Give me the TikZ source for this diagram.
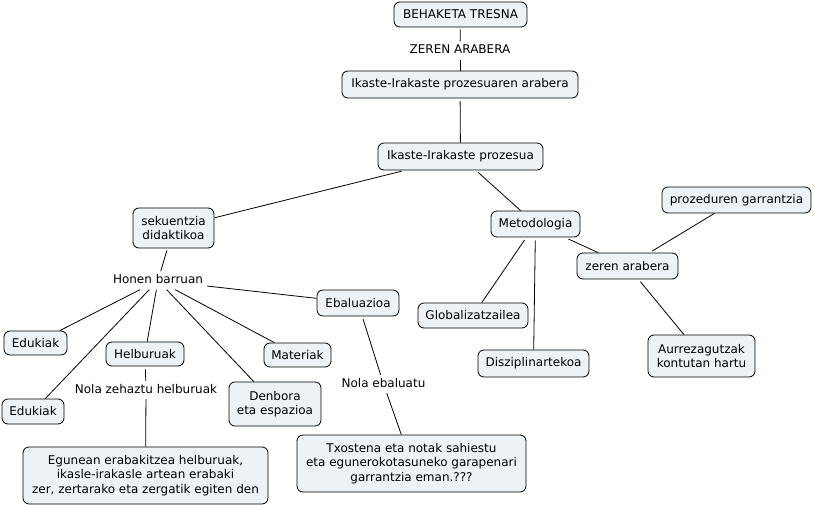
\documentclass[tikz,border=0pt]{standalone}
\usepackage{fontspec}
\setmainfont{DejaVu Sans}
\definecolor{cfill}{RGB}{237,242,246}
\tikzset{
  concept/.style={draw=black, fill=cfill, rounded corners=6pt, line width=0.8pt,
    inner sep=0pt, align=center, font=\fontsize{12}{14.2}\selectfont},
  linklabel/.style={fill=white, inner xsep=4pt, inner ysep=3pt, text height=9pt,
    text depth=3pt, font=\fontsize{12}{14.2}\selectfont},
  conn/.style={draw=black, line width=0.8pt},
}
\begin{document}
\begin{tikzpicture}[x=1pt, y=-1pt]
\useasboundingbox (0,0) rectangle (814,505);
% concepts
\node[concept, minimum width=133pt, minimum height=25pt] (beh) at (460.5,14.5) {BEHAKETA TRESNA};
\node[linklabel] (zA) at (460,50.5) {ZEREN ARABERA};
\node[concept, minimum width=236pt, minimum height=27pt] (arab) at (460,84.5) {Ikaste-Irakaste prozesuaren arabera};
\node[concept, minimum width=165pt, minimum height=27pt] (proz) at (460.5,156.5) {Ikaste-Irakaste prozesua};
\node[concept, minimum width=81pt, minimum height=40pt] (sek) at (173.5,228) {sekuentzia\\didaktikoa};
\node[concept, minimum width=89pt, minimum height=26pt] (meto) at (535.5,224) {Metodologia};
\node[concept, minimum width=149pt, minimum height=26pt] (proc) at (736.5,200) {prozeduren garrantzia};
\node[concept, minimum width=101pt, minimum height=26pt] (zar) at (627.5,266) {zeren arabera};
\node[concept, minimum width=110pt, minimum height=25pt] (glob) at (473,315.5) {Globalizatzailea};
\node[concept, minimum width=111pt, minimum height=27pt] (disz) at (533.5,363.5) {Disziplinartekoa};
\node[concept, minimum width=107pt, minimum height=42pt] (aurre) at (701.5,356) {Aurrezagutzak\\kontutan hartu};
\node[linklabel] (honen) at (158,280.5) {Honen barruan};
\node[concept, minimum width=82pt, minimum height=26pt] (ebal) at (358,303) {Ebaluazioa};
\node[concept, minimum width=63pt, minimum height=24pt] (eduk1) at (35.5,343) {Edukiak};
\node[concept, minimum width=78pt, minimum height=24pt] (helb) at (145,354) {Helburuak};
\node[concept, minimum width=67pt, minimum height=24pt] (mate) at (297.5,355) {Materiak};
\node[concept, minimum width=92pt, minimum height=44pt] (denb) at (275,404) {Denbora\\eta espazioa};
\node[concept, minimum width=62pt, minimum height=25pt] (eduk2) at (33,411.5) {Edukiak};
\node[linklabel] (nolaz) at (146,390) {Nola zehaztu helburuak};
\node[concept, minimum width=245pt, minimum height=57pt] (egun) at (145.5,475.5) {Egunean erabakitzea helburuak,\\ikasle-irakasle artean erabaki\\zer, zertarako eta zergatik egiten den};
\node[linklabel] (nolae) at (383.5,384) {Nola ebaluatu};
\node[concept, minimum width=229pt, minimum height=57pt] (txos) at (411.5,463.5) {Txostena eta notak sahiestu\\eta egunerokotasuneko garapenari\\garrantzia eman.???};
% connectors
\draw[conn, shorten <=2pt] (beh) -- (zA);
\draw[conn] (zA) -- (arab);
\draw[conn, shorten <=3pt] (arab) -- (proz);
\draw[conn, shorten <=3pt] (proz) -- (sek);
\draw[conn, shorten <=3pt] (proz) -- (meto);
\draw[conn, shorten <=2pt] (sek) -- (honen);
\draw[conn] (honen) -- (eduk1);
\draw[conn] (honen) -- (eduk2);
\draw[conn] (honen) -- (helb);
\draw[conn] (honen) -- (mate);
\draw[conn] (honen) -- (denb);
\draw[conn] (honen) -- (ebal);
\draw[conn, shorten <=3pt] (helb) -- (nolaz);
\draw[conn] (nolaz) -- (egun);
\draw[conn, shorten <=3pt] (ebal) -- (nolae);
\draw[conn] (nolae) -- (txos);
\draw[conn, shorten <=3pt] (meto) -- (glob);
\draw[conn, shorten <=3pt] (meto) -- (disz);
\draw[conn, shorten <=4pt] (meto) -- (zar);
\draw[conn, shorten <=3pt] (zar) -- (proc);
\draw[conn, shorten <=3pt] (zar) -- (aurre);
\end{tikzpicture}
\end{document}
